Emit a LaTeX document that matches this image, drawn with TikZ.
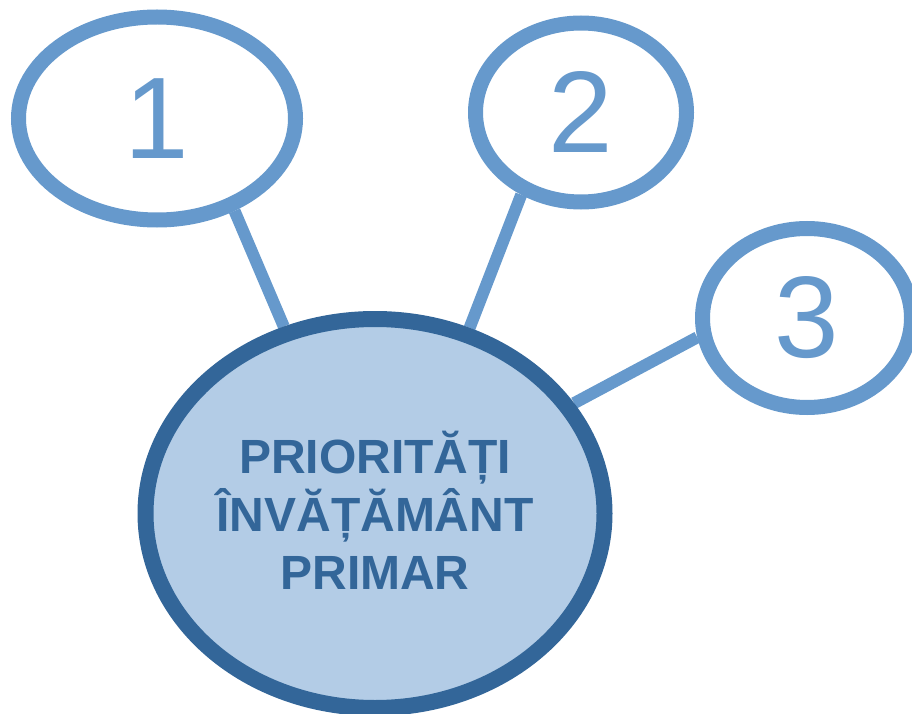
\documentclass[tikz,border=0pt]{standalone}
\usepackage{fontspec}
\setmainfont{Liberation Sans}
\usetikzlibrary{shapes.geometric,backgrounds}
\definecolor{ringblue}{HTML}{6699CC}
\definecolor{darkblue}{HTML}{336699}
\definecolor{fillblue}{HTML}{B3CCE6}
\begin{document}
\begin{tikzpicture}[x=1pt,y=-1pt,
  bubble/.style={ellipse, draw=ringblue, line width=15pt, fill=white, inner sep=0pt, text=ringblue, font=\fontsize{116}{116}\selectfont},
  hub/.style={ellipse, draw=darkblue, line width=16pt, fill=fillblue, inner sep=0pt},
  link/.style={draw=ringblue, line width=12pt},
  hubtext/.style={text=darkblue, font=\bfseries\fontsize{48}{58}\selectfont, align=center, inner sep=0pt}]
\useasboundingbox (0,0) rectangle (912,714);
\clip (0,0) rectangle (912,714);
\node[hub, minimum width=459pt, minimum height=389pt] (hub) at (375,513.5) {};
\node[hubtext] (title) at (375,510) {PRIORITĂȚI\\ÎNVĂȚĂMÂNT\\PRIMAR};
\node[bubble, minimum width=277pt, minimum height=203pt] (b1) at (157,118.5) {1};
\node[bubble, minimum width=211pt, minimum height=179pt] (b2) at (581,112.5) {2};
\node[bubble, minimum width=209pt, minimum height=179pt] (b3) at (807,318) {3};
\begin{scope}[on background layer]
\draw[link] (b1.-50) -- (hub.116.7);
\draw[link] (b2.234.4) -- (hub.63.7);
\draw[link] (b3.190) -- (hub.29.7);
\end{scope}
\end{tikzpicture}
\end{document}
